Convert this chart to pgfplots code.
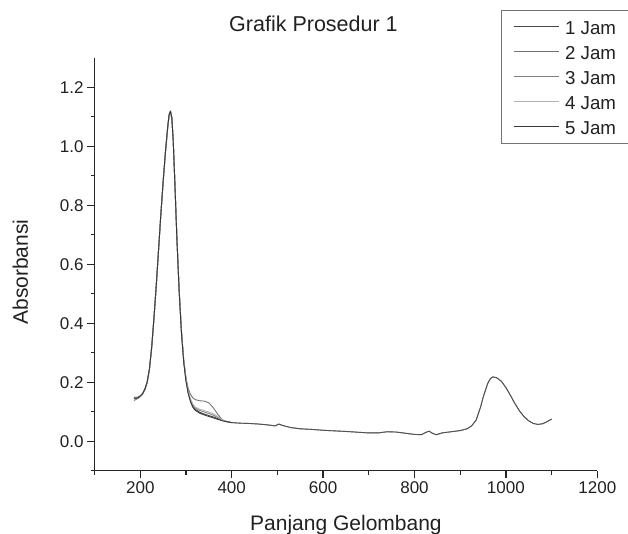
\documentclass[border=0pt]{standalone}
\usepackage{fontspec}
\setmainfont{Liberation Sans}
\usepackage{pgfplots}
\usepackage{pgfplotstable}
\pgfplotsset{compat=1.18}

\pgfplotstableread{
x y
186 0.145
190 0.146
195 0.148
200 0.153
205 0.161
210 0.176
215 0.200
220 0.245
225 0.320
230 0.420
235 0.530
240 0.650
245 0.770
250 0.880
255 0.980
260 1.065
263 1.105
266 1.118
269 1.095
272 1.020
276 0.860
280 0.690
285 0.510
290 0.370
295 0.270
300 0.205
305 0.163
310 0.136
315 0.118
320 0.108
330 0.098
340 0.092
350 0.087
360 0.082
370 0.076
380 0.070
390 0.066
400 0.063
}\headA
\pgfplotstableread{
x y
186 0.138
190 0.141
195 0.145
200 0.151
205 0.159
210 0.174
215 0.198
220 0.243
225 0.318
230 0.418
235 0.528
240 0.648
245 0.768
250 0.878
255 0.978
260 1.062
263 1.102
266 1.115
269 1.093
272 1.022
276 0.864
280 0.695
285 0.515
290 0.376
295 0.277
300 0.215
305 0.178
310 0.158
315 0.147
320 0.141
330 0.137
340 0.136
350 0.130
360 0.113
370 0.090
380 0.072
390 0.066
400 0.063
}\headB
\pgfplotstableread{
x y
186 0.150
190 0.149
195 0.150
200 0.154
205 0.162
210 0.177
215 0.201
220 0.246
225 0.321
230 0.421
235 0.531
240 0.651
245 0.771
250 0.881
255 0.981
260 1.067
263 1.108
266 1.120
269 1.097
272 1.023
276 0.862
280 0.692
285 0.512
290 0.372
295 0.272
300 0.208
305 0.167
310 0.140
315 0.123
320 0.113
330 0.104
340 0.099
350 0.094
360 0.088
370 0.080
380 0.071
390 0.066
400 0.063
}\headC
\pgfplotstableread{
x y
186 0.142
190 0.144
195 0.147
200 0.152
205 0.160
210 0.175
215 0.199
220 0.244
225 0.319
230 0.419
235 0.529
240 0.649
245 0.769
250 0.879
255 0.979
260 1.063
263 1.100
266 1.112
269 1.092
272 1.021
276 0.863
280 0.694
285 0.514
290 0.375
295 0.275
300 0.210
305 0.170
310 0.143
315 0.126
320 0.116
330 0.108
340 0.104
350 0.099
360 0.093
370 0.083
380 0.072
390 0.066
400 0.063
}\headD
\pgfplotstableread{
x y
186 0.147
190 0.145
195 0.147
200 0.153
205 0.161
210 0.176
215 0.200
220 0.245
225 0.320
230 0.420
235 0.530
240 0.650
245 0.770
250 0.880
255 0.980
260 1.066
263 1.106
266 1.118
269 1.096
272 1.019
276 0.858
280 0.688
285 0.508
290 0.368
295 0.268
300 0.203
305 0.160
310 0.133
315 0.115
320 0.105
330 0.095
340 0.089
350 0.084
360 0.079
370 0.074
380 0.069
390 0.066
400 0.063
}\headE
\pgfplotstableread{
x y
400 0.063
420 0.061
440 0.060
460 0.058
480 0.055
495 0.052
503 0.058
512 0.053
530 0.046
550 0.042
575 0.040
600 0.037
650 0.033
700 0.028
720 0.028
740 0.032
760 0.031
780 0.027
800 0.023
815 0.022
825 0.030
832 0.034
840 0.026
848 0.022
860 0.028
880 0.032
900 0.036
915 0.042
925 0.052
935 0.072
945 0.118
950 0.148
960 0.195
966 0.212
972 0.218
980 0.215
990 0.203
1000 0.182
1010 0.155
1020 0.127
1030 0.102
1040 0.083
1050 0.069
1060 0.060
1070 0.057
1080 0.059
1090 0.066
1100 0.075
}\tailAll

\definecolor{txt}{gray}{0.13}

\begin{document}
\begin{tikzpicture}
\useasboundingbox (0,0) rectangle (628pt,534pt);
\begin{axis}[
  at={(94.6pt,63.3pt)}, anchor=south west,
  scale only axis, width=502.7pt, height=413pt,
  xmin=100, xmax=1200, ymin=-0.1, ymax=1.3,
  axis lines=left,
  axis line style={-, line width=1.4pt, black!85},
  xtick={200,400,600,800,1000,1200},
  minor xtick={100,300,500,700,900,1100},
  ytick={0,0.2,0.4,0.6,0.8,1.0,1.2},
  minor ytick={-0.1,0.1,0.3,0.5,0.7,0.9,1.1},
  tick align=outside,
  major tick length=7.5pt, minor tick length=4pt,
  tick style={line width=1.3pt, black!85},
  scaled ticks=false,
  /pgf/number format/assume math mode=true,
  /pgf/number format/1000 sep={},
  yticklabel style={/pgf/number format/fixed, /pgf/number format/fixed zerofill, /pgf/number format/precision=1},
  ticklabel style={font=\fontsize{17}{20}\selectfont, text=txt},
  title={Grafik Prosedur 1},
  title style={at={(axis description cs:0.4354,1.0477)}, anchor=base, font=\fontsize{21.5}{24}\selectfont, text=txt},
  xlabel={Panjang Gelombang},
  xlabel style={at={(axis description cs:0.5,-0.1436)}, anchor=base, font=\fontsize{21}{24}\selectfont, text=txt},
  ylabel={Absorbansi},
  ylabel style={at={(axis description cs:-0.1325,0.481)}, anchor=base, rotate=0, font=\fontsize{21}{24}\selectfont, text=txt},
  legend cell align=left,
  legend image code/.code={\draw[#1] (0pt,0pt) -- (45pt,0pt);},
  legend style={at={(axis description cs:0.808,1.1155)}, anchor=north west,
    draw=black!55, line width=0.8pt, fill=white,
    font=\fontsize{18.7}{22}\selectfont, text=txt,
    inner xsep=12pt, inner ysep=4pt, row sep=0pt, column sep=4pt,
    nodes={inner sep=2pt, text height=18pt, text depth=3pt}},
  every axis plot/.append style={line width=0.9pt, line join=round},
]
\addplot[black!72] table {\headA};
\addlegendentry{1 Jam}
\addplot[black!55] table {\headB};
\addlegendentry{2 Jam}
\addplot[black!50] table {\headC};
\addlegendentry{3 Jam}
\addplot[black!30] table {\headD};
\addlegendentry{4 Jam}
\addplot[black!78] table {\headE};
\addlegendentry{5 Jam}
\addplot[black!50, forget plot] table {\tailAll};
\addplot[black!68, forget plot] table {\tailAll};
\end{axis}
\end{tikzpicture}
\end{document}
